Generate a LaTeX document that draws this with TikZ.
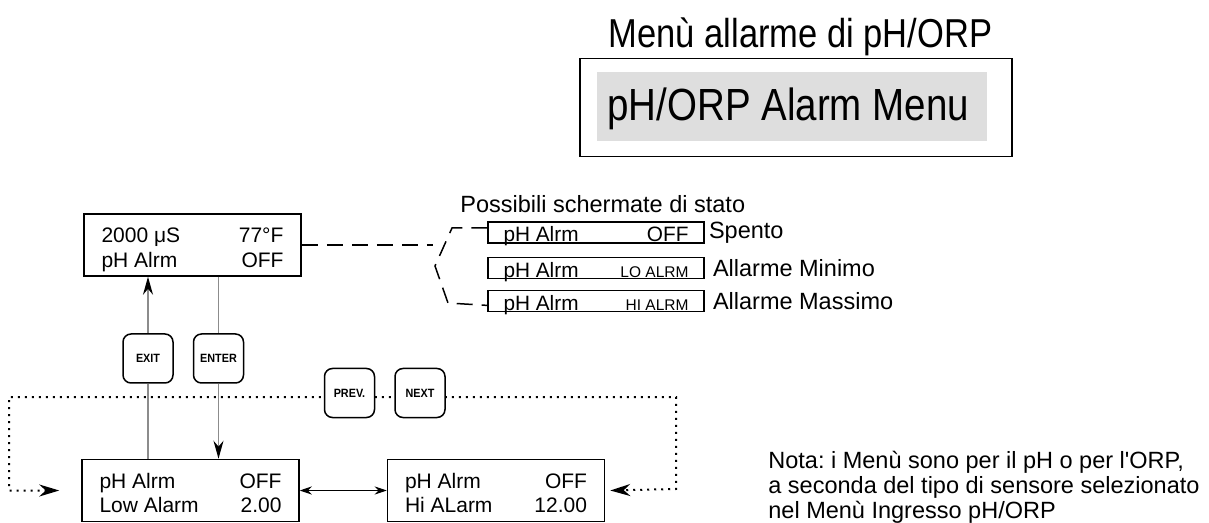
\documentclass[tikz,border=0pt]{standalone}
\usepackage{fontspec}
\setmainfont{Liberation Sans}
\frenchspacing
\usetikzlibrary{arrows.meta,positioning}
\definecolor{menugray}{RGB}{222,222,222}
\definecolor{linegray}{RGB}{140,140,140}
\newcommand{\lcdrow}[2]{\makebox[91pt]{#1\hfill#2}}
\newcommand{\stateline}[1]{\makebox[92.5pt]{pH Alrm\hfill#1}}
\newcommand{\smallcaps}[1]{{\fontsize{7.75}{9}\selectfont #1}}
\newcommand{\keylabel}[1]{\scalebox{0.9}[1]{#1}}

\begin{document}
\begin{tikzpicture}[x=0.5pt,y=-0.5pt,
  lcd node/.style={draw,line width=0.75pt,minimum width=108.5pt,minimum height=31pt,inner sep=0pt,
    text height=26.5pt,text depth=4.25pt,font=\fontsize{10.5}{12.25}\selectfont},
  state node/.style={draw,line width=0.6pt,minimum width=108pt,minimum height=10.5pt,inner sep=0pt,
    text height=10pt,text depth=0.5pt,font=\fontsize{10.4}{12}\selectfont},
  key node/.style={draw,fill=white,rounded corners=4pt,line width=0.75pt,minimum width=25pt,
    minimum height=24.5pt,inner sep=0pt,font=\fontsize{6}{7}\selectfont\bfseries},
  note node/.style={inner sep=0pt,font=\fontsize{11.75}{13}\selectfont},
  key line/.style={draw=linegray,line width=0.75pt},
  key tip/.style={-{Stealth[length=9pt,width=5pt,color=black]}},
  dash line/.style={line width=0.75pt,dash pattern=on 8pt off 4.5pt},
  dot line/.style={line width=1pt,dash pattern=on 1pt off 2.5pt,>={Stealth[length=10pt,width=6pt]}}]
  \useasboundingbox (0,0) rectangle (1209,523);

  \node[anchor=base,inner sep=0pt,font=\fontsize{17.25}{20}\selectfont] (menuit) at (800.5,48)
    {\scalebox{1}[1.17]{Menù allarme di pH/ORP}};
  \node[draw,line width=0.75pt,anchor=north west,minimum width=216pt,minimum height=49pt,inner sep=0pt]
    (menubox) at (579,58) {};
  \node[fill=menugray,anchor=north west,inner xsep=5pt,inner ysep=0pt,text height=24pt,text depth=10.5pt,
    font=\fontsize{19.25}{22}\selectfont] (menuen) at (597,72)
    {\makebox[185pt][l]{\scalebox{1}[1.17]{pH/ORP Alarm Menu}}};

  \node[lcd node] (status) at (192.5,245)
    {\begin{tabular}[b]{@{}l@{}}\lcdrow{2000 μS}{77°F}\\\lcdrow{pH Alrm}{OFF}\end{tabular}};
  \node[lcd node] (lowlcd) at (190.5,490.5)
    {\begin{tabular}[b]{@{}l@{}}\lcdrow{pH Alrm}{OFF}\\\lcdrow{Low Alarm}{2.00}\end{tabular}};
  \node[lcd node,right=43.5pt of lowlcd] (hilcd)
    {\begin{tabular}[b]{@{}l@{}}\lcdrow{pH Alrm}{OFF}\\\lcdrow{Hi ALarm}{12.00}\end{tabular}};

  \node[note node,anchor=base west] (stati) at (460,213) {Possibili schermate di stato};
  \node[state node] (offline) at (596,232.5) {\stateline{OFF}};
  \node[state node,below=6.5pt of offline] (loline) {\stateline{\smallcaps{LO ALRM}}};
  \node[state node,below=5.5pt of loline] (hiline) {\stateline{\smallcaps{HI ALRM}}};
  \node[note node,right=2pt of offline] (spento) {Spento};
  \node[note node,right=4pt of loline] (minimo) {Allarme Minimo};
  \node[note node,right=4pt of hiline] (massimo) {Allarme Massimo};

  \coordinate (fork) at (433,245);
  \draw[dash line] (status) -- (fork);
  \draw[dash line] ([yshift=2.25pt]offline.west) -- (452,228) -- (435,266) -- (448,303)
    -- ([yshift=-2.25pt]hiline.west);

  \node[key node] (exit) at (148,358.5) {\keylabel{EXIT}};
  \node[key node,right=9.5pt of exit] (enter) {\keylabel{ENTER}};
  \draw[key line] (lowlcd.north -| exit) -- (exit);
  \draw[key line,key tip] (exit) -- (exit |- status.south);
  \draw[key line] (status.south -| enter) -- (enter);
  \draw[key line,key tip] (enter) -- (enter |- lowlcd.north);

  \draw[line width=0.5pt,{Stealth[length=6pt,width=4pt]}-{Stealth[length=6pt,width=4pt]}] (lowlcd) -- (hilcd);
  \draw[dot line,<->] ([xshift=-11pt]lowlcd.west) -| (9,397) -| (676,489) -- ([xshift=2.5pt]hilcd.east);
  \node[key node] (prev) at (349.5,393) {\keylabel{PREV.}};
  \node[key node,right=9.5pt of prev] (next) {\keylabel{NEXT}};

  \node[note node,anchor=base west] (nota1) at (768,468) {Nota: i Menù sono per il pH o per l\textquotesingle ORP,};
  \node[note node,anchor=base west] (nota2) at (768,493) {a seconda del tipo di sensore selezionato};
  \node[note node,anchor=base west] (nota3) at (768,518) {nel Menù Ingresso pH/ORP};
\end{tikzpicture}
\end{document}
